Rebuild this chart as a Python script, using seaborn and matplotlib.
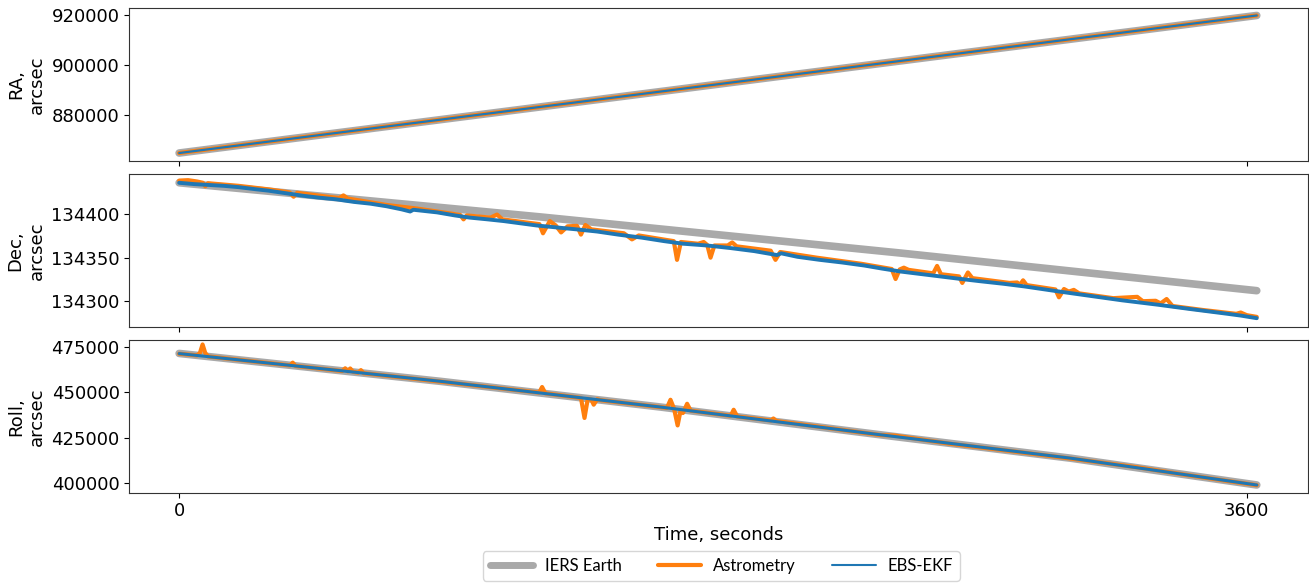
import matplotlib
matplotlib.use("Agg")
import matplotlib.pyplot as plt
from matplotlib.lines import Line2D
import seaborn as sns

# ---------------- RA (arcsec) ----------------
ra_time = [0, 600, 1200, 1800, 2400, 3000, 3634]
ra_iers = [864700, 873800, 882900, 892000, 901100, 910200, 919800]
ra_astrometry = [864700, 873800, 882900, 892000, 901100, 910200, 919800]
ra_ekf = [864700, 873800, 882900, 892000, 901100, 910200, 919800]

# ---------------- Dec (arcsec) ----------------
dec_iers_time = [0, 1218, 2433, 3634]
dec_iers = [134436.0, 134396.8, 134355.3, 134312.1]

dec_astro_time = [
    0, 30, 60, 80, 88, 97, 200, 300, 372, 386,
    398, 500, 540, 554, 568, 700, 800, 900, 948, 959,
    970, 1050, 1072, 1090, 1180, 1215, 1227, 1250, 1270, 1288,
    1310, 1342, 1355, 1370, 1390, 1500, 1527, 1550, 1640, 1668,
    1679, 1692, 1750, 1769, 1781, 1792, 1805, 1850, 1865, 1880,
    1995, 2011, 2027, 2150, 2300, 2403, 2416, 2430, 2444, 2460,
    2543, 2556, 2569, 2630, 2641, 2652, 2660, 2675, 2800, 2826,
    2836, 2846, 2858, 2955, 2967, 2984, 3000, 3017, 3035, 3150,
    3231, 3250, 3293, 3310, 3330, 3350, 3450, 3565, 3580, 3600,
    3634,
]
dec_astrometry = [
    134438.5, 134439.0, 134437.5, 134436.0, 134432.0, 134435.5, 134432.5, 134428.5, 134425.0, 134420.0,
    134424.5, 134420.0, 134418.5, 134421.5, 134418.0, 134410.5, 134406.5, 134401.5, 134399.0, 134394.0,
    134398.5, 134396.0, 134399.5, 134394.0, 134390.0, 134388.5, 134378.0, 134392.0, 134387.0, 134379.0,
    134386.0, 134386.5, 134376.5, 134387.5, 134382.5, 134378.0, 134371.0, 134375.5, 134370.5, 134369.0,
    134347.5, 134368.0, 134366.0, 134368.0, 134364.5, 134350.0, 134364.0, 134364.0, 134367.5, 134363.0,
    134358.0, 134347.5, 134356.5, 134350.0, 134343.0, 134337.0, 134325.5, 134336.5, 134338.5, 134336.0,
    134332.0, 134340.5, 134331.0, 134328.5, 134321.0, 134328.0, 134333.0, 134326.5, 134321.0, 134321.5,
    134319.0, 134324.0, 134318.5, 134313.5, 134304.5, 134314.0, 134311.0, 134313.0, 134309.0, 134303.5,
    134305.0, 134300.0, 134300.5, 134297.5, 134302.5, 134294.5, 134290.0, 134285.5, 134287.0, 134284.0,
    134282.0,
]

dec_ekf_time = [
    0, 50, 100, 150, 200, 260, 300, 340, 380, 420,
    470, 530, 590, 645, 700, 750, 779, 790, 870, 930,
    980, 1040, 1095, 1150, 1205, 1280, 1340, 1410, 1480, 1560,
    1635, 1700, 1780, 1860, 1940, 2016, 2030, 2085, 2160, 2235,
    2310, 2370, 2435, 2530, 2625, 2700, 2780, 2850, 2960, 3075,
    3180, 3300, 3410, 3525, 3580, 3634,
]
dec_ekf = [
    134436.0, 134434.5, 134433.5, 134432.5, 134431.0, 134428.5, 134427.0, 134425.0, 134423.0, 134421.0,
    134419.0, 134417.0, 134414.0, 134412.0, 134409.0, 134405.5, 134403.0, 134405.0, 134402.0, 134398.5,
    134396.0, 134394.0, 134392.0, 134389.5, 134387.0, 134384.5, 134382.5, 134380.0, 134376.5, 134373.0,
    134369.0, 134366.0, 134364.0, 134361.0, 134357.5, 134353.0, 134355.0, 134351.0, 134347.5, 134344.5,
    134341.0, 134337.5, 134334.0, 134330.0, 134326.0, 134323.0, 134320.0, 134317.0, 134311.5, 134306.0,
    134301.0, 134296.0, 134291.0, 134286.0, 134283.5, 134280.5,
]

# ---------------- Roll (arcsec) ----------------
roll_iers_time = [0, 881, 1623, 2365, 3006, 3634]
roll_iers = [471360, 456030, 441910, 426640, 413790, 399060]
roll_ekf = [471300, 456050, 441900, 426650, 413800, 399050]

roll_astro_time = [
    0, 60, 70, 79, 88, 98, 300, 374, 383, 392,
    550, 560, 569, 577, 586, 604, 613, 622, 800, 1214,
    1224, 1235, 1355, 1367, 1378, 1390, 1398, 1410, 1420, 1645,
    1657, 1669, 1681, 1691, 1699, 1713, 1725, 1860, 1870, 1882,
    1996, 2004, 2014, 2365, 2414, 2600, 2800, 3006, 3230, 3400,
    3634,
]
roll_astrometry = [
    471200, 470300, 471600, 476300, 471600, 469700, 466100, 464800, 466300, 464500,
    461700, 463200, 461500, 463100, 461300, 460800, 462200, 460500, 457350, 449850,
    452900, 449450, 446900, 435900, 446400, 446000, 443200, 446200, 445700, 441450,
    445900, 441000, 431800, 440000, 438600, 443700, 439900, 437100, 440400, 436700,
    434500, 435600, 434200, 426500, 426200, 421700, 417800, 413600, 408800, 404500,
    398950,
]

series_labels = ["IERS Earth", "Astrometry", "EBS-EKF"]
panel_labels = ["RA,\narcsec", "Dec,\narcsec", "Roll,\narcsec"]
ra_ticks = [880000, 900000, 920000]
dec_ticks = [134300, 134350, 134400]
roll_ticks = [400000, 425000, 450000, 475000]
time_ticks = [0, 3600]

# ---------------- styling ----------------
sns.set_style("ticks")
plt.rcParams["font.family"] = ["DejaVu Sans"]
plt.rcParams["text.color"] = "black"
plt.rcParams["axes.labelcolor"] = "black"
plt.rcParams["xtick.color"] = "black"
plt.rcParams["ytick.color"] = "black"
plt.rcParams["axes.edgecolor"] = "#333333"

GREY = "darkgray"
ORANGE = "#ff7f0e"
BLUE = "#1f77b4"
FS = 13

fig, axes = plt.subplots(3, 1, figsize=(13.09, 5.83), dpi=100, sharex=True)
fig.subplots_adjust(left=0.0988, right=0.9995, top=0.9858, bottom=0.1549, hspace=0.0884)

panels = [
    (ra_time, ra_iers, ra_time, ra_astrometry, ra_time, ra_ekf, ra_ticks, (861600, 922680), 1.6),
    (dec_iers_time, dec_iers, dec_astro_time, dec_astrometry, dec_ekf_time, dec_ekf, dec_ticks,
     (134270.7, 134445.8), 2.8),
    (roll_iers_time, roll_iers, roll_astro_time, roll_astrometry, roll_iers_time, roll_ekf, roll_ticks,
     (394816, 478640), 2.2),
]

for ax, label, (ti, yi, ta, ya, te, ye, ticks, ylim, blue_lw) in zip(axes, panel_labels, panels):
    sns.lineplot(x=ti, y=yi, ax=ax, color=GREY, linewidth=5.5, errorbar=None, sort=False)
    sns.lineplot(x=ta, y=ya, ax=ax, color=ORANGE, linewidth=3.0, errorbar=None, sort=False)
    sns.lineplot(x=te, y=ye, ax=ax, color=BLUE, linewidth=blue_lw, errorbar=None, sort=False)
    ax.set_ylim(*ylim)
    ax.set_yticks(ticks)
    ax.ticklabel_format(axis="y", style="plain", useOffset=False)
    ax.set_ylabel(label, fontsize=FS)
    ax.tick_params(labelsize=FS)
    for s in ax.spines.values():
        s.set_linewidth(0.8)

axes[-1].set_xlim(-168, 3808)
axes[-1].set_xticks(time_ticks)
axes[-1].set_xlabel("Time, seconds", fontsize=FS)

handles = [
    Line2D([], [], color=GREY, linewidth=5),
    Line2D([], [], color=ORANGE, linewidth=3),
    Line2D([], [], color=BLUE, linewidth=1.5),
]
fig.legend(handles, series_labels, loc="lower center", bbox_to_anchor=(0.551, 0.004),
           ncol=3, frameon=True, borderaxespad=0, handlelength=2.6, handletextpad=0.7,
           columnspacing=2.2, prop={"family": "Lato", "size": 12})

fig.savefig("out.png", dpi=100)
